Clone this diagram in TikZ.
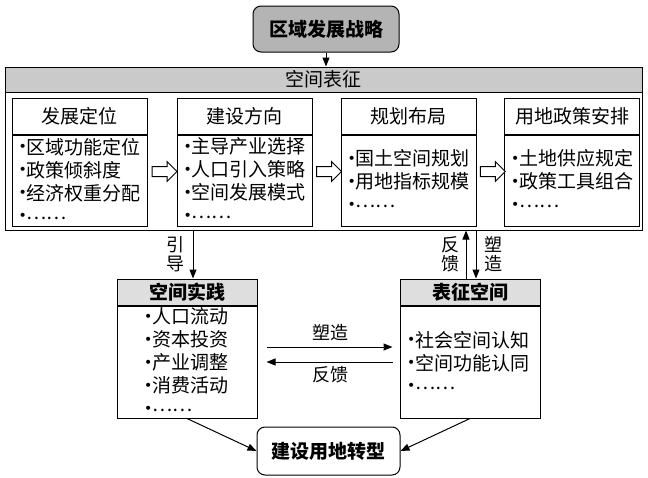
\documentclass[tikz,border=0pt]{standalone}
\usepackage{fontspec}
\setmainfont{Noto Sans CJK SC}
\newfontfamily\dejavu{DejaVu Sans}
\usepackage{tikz}
\usetikzlibrary{calc,arrows.meta,positioning,shapes.arrows}
\definecolor{stratgray}{RGB}{180,180,180}
\definecolor{bandgray}{RGB}{202,202,202}
\definecolor{headgray}{RGB}{222,222,222}
\newcommand{\bul}{{\dejavu\fontsize{14}{14}\selectfont\raisebox{2.5pt}{•}}}
\newcommand{\etc}{\raisebox{4pt}{……}}

\tikzset{
  txt/.style={font=\fontsize{19}{23}\selectfont},
  lbl/.style={font=\fontsize{18}{19}\selectfont, align=center, inner sep=0pt},
  titlebox/.style={draw, line width=1pt, fill=white, minimum width=135pt, minimum height=36pt, inner sep=0pt, txt},
  listbox/.style={draw, line width=1pt, fill=white, minimum height=91pt, text width=122pt, inner xsep=6.5pt, inner ysep=0pt, align=left, txt},
  headbox/.style={draw, line width=1pt, fill=headgray, minimum width=140pt, minimum height=26pt, inner sep=0pt, txt, font=\fontsize{19}{23}\selectfont\bfseries},
  hollow/.style={single arrow, draw, line width=1pt, fill=white, minimum height=25pt, single arrow head extend=5pt, inner xsep=0pt, inner ysep=4.5pt},
  arr/.style={line width=1pt, -{Triangle[length=9pt,width=7pt]}},
}

\begin{document}
\begin{tikzpicture}[x=1pt, y=-1pt]
\useasboundingbox (0,0) rectangle (648,477);

% Strategy on top
\node[draw, line width=1pt, fill=stratgray, rounded corners=8pt, minimum width=146pt, minimum height=46pt,
      font=\fontsize{19}{23}\selectfont\bfseries] (strat) at (326,29) {区域发展战略};

% Representation of space: outer frame and band
\node[draw, line width=1pt, minimum width=637pt, minimum height=163pt] (outer) at (323.5,148.5) {};
\node[draw, line width=1pt, fill=bandgray, minimum width=637pt, minimum height=25pt, anchor=north, txt] (band) at (outer.north) {空间表征};
\draw[arr] (strat.south) -- (strat.south |- outer.north);

% Four steps inside
\node[titlebox] (dw) at (79.5,116) {发展定位};
\node[listbox, below=0pt of dw] (dwb) {\bul 区域功能定位\\\bul 政策倾斜度\\\bul 经济权重分配\\\bul \etc};

\node[titlebox] (fx) at (244.5,116) {建设方向};
\node[listbox, below=0pt of fx] (fxb) {\bul 主导产业选择\\\bul 人口引入策略\\\bul 空间发展模式\\\bul \etc};

\node[titlebox] (bj) at (408.5,116) {规划布局};
\node[listbox, below=0pt of bj] (bjb) {\bul 国土空间规划\\\bul 用地指标规模\\\bul \etc};

\node[titlebox] (zc) at (572,116) {用地政策安排};
\node[listbox, below=0pt of zc] (zcb) {\bul 土地供应规定\\\bul 政策工具组合\\\bul \etc};

% Hollow arrows between steps
\node[hollow, yshift=9pt] (h1) at ($(dwb.east)!0.5!(fxb.west)$) {};
\node[hollow, yshift=9pt] (h2) at ($(fxb.east)!0.5!(bjb.west)$) {};
\node[hollow, yshift=9pt] (h3) at ($(bjb.east)!0.5!(zcb.west)$) {};

% Spatial practice
\node[headbox] (sj) at (187,292) {空间实践};
\node[draw, line width=1pt, below=0pt of sj, minimum height=112pt, text width=86pt, inner xsep=27pt, inner ysep=0pt,
      align=left, txt] (sjb) {\bul 人口流动\\\bul 资本投资\\\bul 产业调整\\\bul 消费活动\\\bul \etc};

% Space of representation
\node[headbox] (bz) at (470,292) {表征空间};
\node[draw, line width=1pt, below=0pt of bz, minimum height=112pt, text width=126pt, inner xsep=7pt, inner ysep=0pt,
      align=left, txt] (bzb) {\bul 社会空间认知\\\bul 空间功能认同\\\bul \etc};

% Result
\node[draw, line width=1pt, fill=white, rounded corners=8pt, minimum width=143pt, minimum height=48pt,
      font=\fontsize{19}{23}\selectfont\bfseries] (zx) at (328.5,451) {建设用地转型};

% Links between the levels
\draw[arr] ([xshift=6pt]sj.north |- outer.south) -- ([xshift=6pt]sj.north);
\node[lbl] (yd) at (175,254) {引\\导};

\draw[arr] ([xshift=-4pt]bz.north) -- ([xshift=-4pt]bz.north |- outer.south);
\node[lbl] (fk1) at (450,254) {反\\馈};
\draw[arr] ([xshift=6pt]bz.north |- outer.south) -- ([xshift=6pt]bz.north);
\node[lbl] (sz1) at (493,254) {塑\\造};

\draw[arr, shorten <=9pt, shorten >=7pt] ([yshift=15pt]sjb.east) -- ([yshift=15pt]bzb.west);
\node[lbl] (sz2) at (330,333) {塑造};
\draw[arr, shorten <=7pt, shorten >=9pt] (bzb.west) -- (sjb.east);
\node[lbl] (fk2) at (330,375) {反馈};

\draw[arr] (sjb.south) -- (zx.west);
\draw[arr] (bzb.south) -- (zx.east);
\end{tikzpicture}
\end{document}
